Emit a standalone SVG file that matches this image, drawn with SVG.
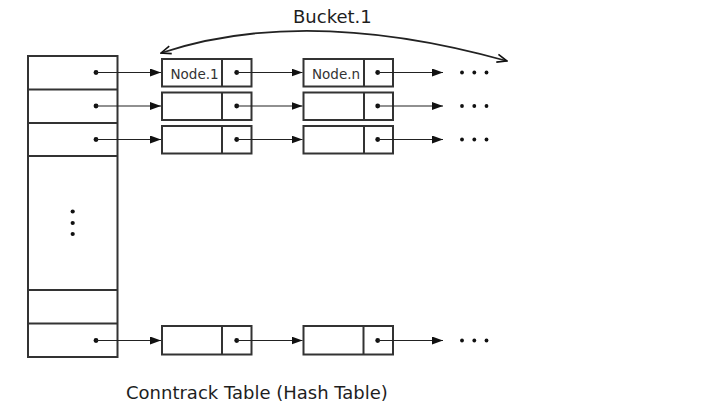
<svg xmlns="http://www.w3.org/2000/svg" width="701" height="408" viewBox="0 0 701 408">
<style>
.box{fill:none;stroke:#333;stroke-width:2}
.ln{fill:none;stroke:#222;stroke-width:1.2}
.dot{fill:#111}
.lbl{font-family:"DejaVu Sans",sans-serif;fill:#1e1e1e}
.title{font-size:18px}
.nl{font-size:13.5px;fill:#333}
</style>
<defs>
<marker id="tri" viewBox="0 0 11 8" refX="11" refY="4" markerWidth="11" markerHeight="8" markerUnits="userSpaceOnUse" orient="auto">
<path d="M0,0 L11,4 L0,8 Z" fill="#111"/>
</marker>
<marker id="vee" viewBox="0 0 12 10" refX="11" refY="5" markerWidth="12" markerHeight="10" markerUnits="userSpaceOnUse" orient="auto-start-reverse">
<path d="M1,1 L11,5 L1,9" fill="none" stroke="#111" stroke-width="1.6"/>
</marker>
</defs>
<rect width="701" height="408" fill="#fff"/>

<g id="table">
<rect class="box" x="28" y="56" width="89.5" height="301"/>
<line class="box" x1="28" y1="89.5" x2="117.5" y2="89.5"/>
<line class="box" x1="28" y1="123" x2="117.5" y2="123"/>
<line class="box" x1="28" y1="156" x2="117.5" y2="156"/>
<line class="box" x1="28" y1="290" x2="117.5" y2="290"/>
<line class="box" x1="28" y1="323.5" x2="117.5" y2="323.5"/>
<circle class="dot" cx="96" cy="72.5" r="2.4"/>
<circle class="dot" cx="96" cy="106" r="2.4"/>
<circle class="dot" cx="96" cy="139.5" r="2.4"/>
<circle class="dot" cx="96" cy="340.5" r="2.4"/>
<circle class="dot" cx="72.7" cy="211.5" r="2.1"/>
<circle class="dot" cx="72.7" cy="223" r="2.1"/>
<circle class="dot" cx="72.7" cy="234" r="2.1"/>
</g>

<g id="node-r1-1">
<rect class="box" x="162" y="59" width="89.5" height="27.5"/>
<line class="box" x1="222" y1="59" x2="222" y2="86.5"/>
<text class="lbl nl" x="170.5" y="78.5">Node.1</text>
<circle class="dot" cx="236.7" cy="72.5" r="2.4"/>
</g>
<g id="node-r1-n">
<rect class="box" x="303.5" y="59" width="89.5" height="27.5"/>
<line class="box" x1="364" y1="59" x2="364" y2="86.5"/>
<text class="lbl nl" x="312" y="78.5">Node.n</text>
<circle class="dot" cx="377.7" cy="72.5" r="2.4"/>
</g>
<g id="node-r2-1">
<rect class="box" x="162" y="92.5" width="89.5" height="27.5"/>
<line class="box" x1="222" y1="92.5" x2="222" y2="120"/>
<circle class="dot" cx="236.7" cy="106" r="2.4"/>
</g>
<g id="node-r2-n">
<rect class="box" x="303.5" y="92.5" width="89.5" height="27.5"/>
<line class="box" x1="364" y1="92.5" x2="364" y2="120"/>
<circle class="dot" cx="377.7" cy="106" r="2.4"/>
</g>
<g id="node-r3-1">
<rect class="box" x="162" y="126" width="89.5" height="27.5"/>
<line class="box" x1="222" y1="126" x2="222" y2="153.5"/>
<circle class="dot" cx="236.7" cy="139.5" r="2.4"/>
</g>
<g id="node-r3-n">
<rect class="box" x="303.5" y="126" width="89.5" height="27.5"/>
<line class="box" x1="364" y1="126" x2="364" y2="153.5"/>
<circle class="dot" cx="377.7" cy="139.5" r="2.4"/>
</g>
<g id="node-r4-1">
<rect class="box" x="162" y="326" width="89.5" height="28.5"/>
<line class="box" x1="222" y1="326" x2="222" y2="354.5"/>
<circle class="dot" cx="236.7" cy="340.5" r="2.4"/>
</g>
<g id="node-r4-n">
<rect class="box" x="303.5" y="326" width="89.5" height="28.5"/>
<line class="box" x1="363.5" y1="326" x2="363.5" y2="354.5"/>
<circle class="dot" cx="377.7" cy="340.5" r="2.4"/>
</g>

<g id="ellipses">
<g class="dot">
<circle cx="462" cy="72.5" r="1.9"/><circle cx="474.3" cy="72.5" r="1.9"/><circle cx="486.5" cy="72.5" r="1.9"/>
<circle cx="462" cy="106" r="1.9"/><circle cx="474.3" cy="106" r="1.9"/><circle cx="486.5" cy="106" r="1.9"/>
<circle cx="462" cy="139.5" r="1.9"/><circle cx="474.3" cy="139.5" r="1.9"/><circle cx="486.5" cy="139.5" r="1.9"/>
<circle cx="462" cy="340.5" r="1.9"/><circle cx="474.3" cy="340.5" r="1.9"/><circle cx="486.5" cy="340.5" r="1.9"/>
</g>
</g>

<g id="connectors">
<line class="ln" x1="96" y1="72.5" x2="161" y2="72.5" marker-end="url(#tri)"/>
<line class="ln" x1="96" y1="106" x2="161" y2="106" marker-end="url(#tri)"/>
<line class="ln" x1="96" y1="139.5" x2="161" y2="139.5" marker-end="url(#tri)"/>
<line class="ln" x1="96" y1="340.5" x2="161" y2="340.5" marker-end="url(#tri)"/>
<line class="ln" x1="236.7" y1="72.5" x2="302.5" y2="72.5" marker-end="url(#tri)"/>
<line class="ln" x1="236.7" y1="106" x2="302.5" y2="106" marker-end="url(#tri)"/>
<line class="ln" x1="236.7" y1="139.5" x2="302.5" y2="139.5" marker-end="url(#tri)"/>
<line class="ln" x1="236.7" y1="340.5" x2="302.5" y2="340.5" marker-end="url(#tri)"/>
<line class="ln" x1="377.7" y1="72.5" x2="443" y2="72.5" marker-end="url(#tri)"/>
<line class="ln" x1="377.7" y1="106" x2="443" y2="106" marker-end="url(#tri)"/>
<line class="ln" x1="377.7" y1="139.5" x2="443" y2="139.5" marker-end="url(#tri)"/>
<line class="ln" x1="377.7" y1="340.5" x2="443" y2="340.5" marker-end="url(#tri)"/>
<path class="ln" style="stroke-width:1.8" d="M161,53 Q306,5 507,61" marker-start="url(#vee)" marker-end="url(#vee)"/>
</g>

<text class="lbl title" x="293" y="23">Bucket.1</text>
<text class="lbl title" x="126" y="398.5">Conntrack Table (Hash Table)</text>
</svg>
